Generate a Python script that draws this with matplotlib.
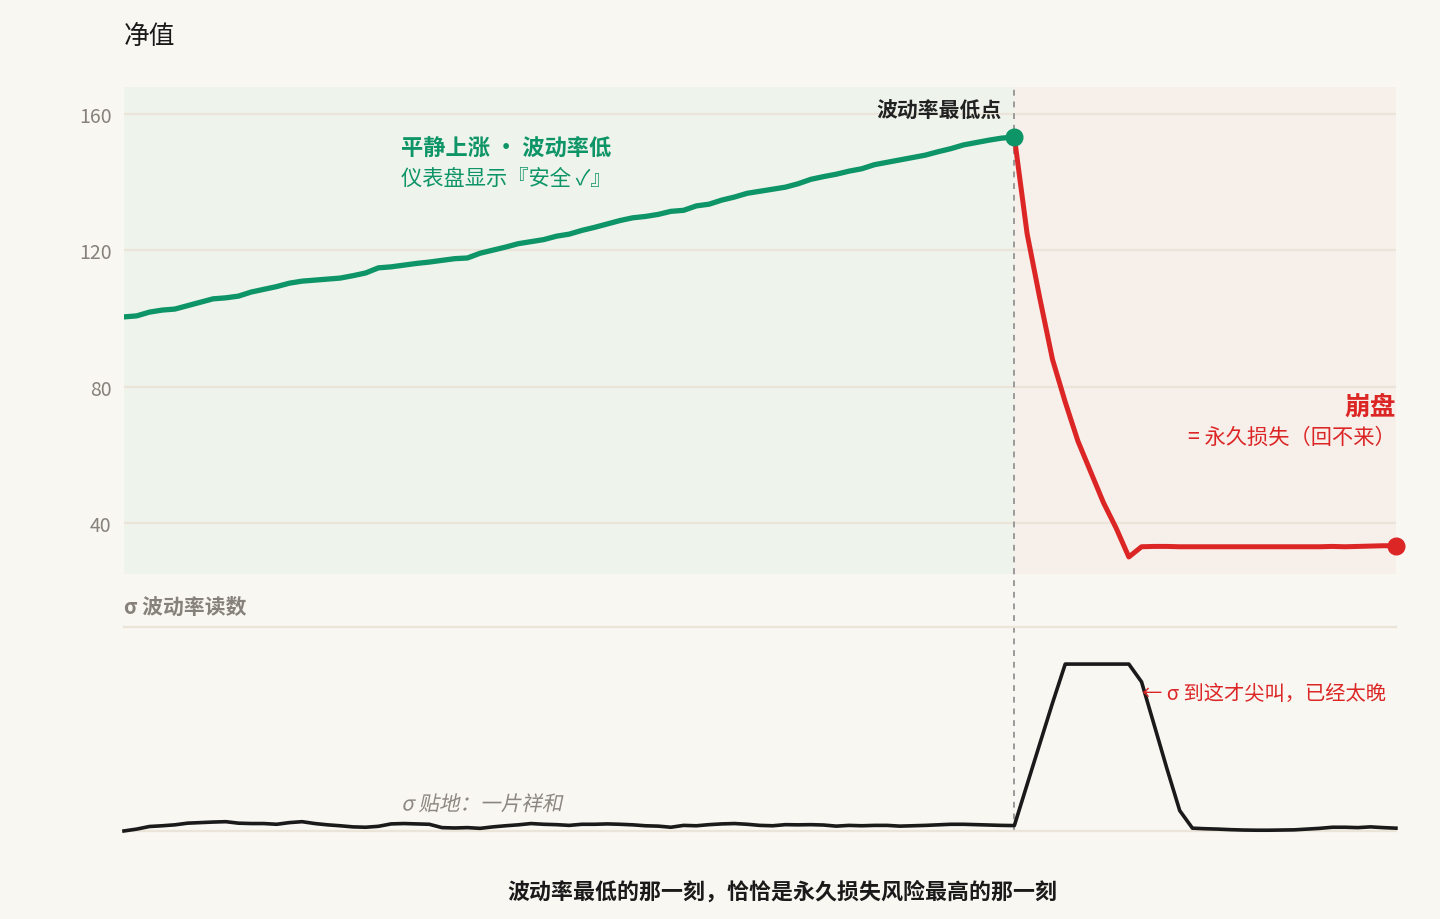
import matplotlib
matplotlib.use("Agg")
import matplotlib.pyplot as plt
from matplotlib.patches import PathPatch
from matplotlib.textpath import TextPath
from matplotlib.font_manager import FontProperties
from matplotlib.transforms import Affine2D

plt.rcParams['font.family'] = ['Noto Sans CJK SC', 'DejaVu Sans']

# 净值序列 (每步一格, 0..100)
nav_calm = [100.5, 100.8, 101.9, 102.5, 102.8, 103.8, 104.8, 105.8, 106.1, 106.6,
            107.8, 108.6, 109.4, 110.4, 111.0, 111.3, 111.6, 111.9, 112.6, 113.4,
            114.9, 115.2, 115.7, 116.2, 116.6, 117.1, 117.6, 117.8, 119.2, 120.1,
            121.0, 122.0, 122.6, 123.2, 124.2, 124.8, 125.9, 126.8, 127.8, 128.8,
            129.6, 130.0, 130.6, 131.5, 131.8, 133.1, 133.6, 134.8, 135.7, 136.8,
            137.4, 138.0, 138.6, 139.6, 140.9, 141.7, 142.4, 143.3, 144.0, 145.2,
            145.9, 146.6, 147.3, 148.0, 149.0, 149.9, 151.0, 151.7, 152.4, 153.0,
            153.3]
nav_crash = [153.3, 125.0, 106.0, 88.0, 75.5, 64.0, 55.0, 46.0, 38.5, 30.0,
             33.0, 33.1, 33.1, 33.0, 33.0, 33.0, 33.0, 33.0, 33.0, 33.0,
             33.0, 33.0, 33.0, 33.0, 33.0, 33.1, 33.0, 33.1, 33.2, 33.3,
             33.3]
# 波动率读数
sigma = [0.00, 0.10, 0.24, 0.28, 0.33, 0.42, 0.45, 0.48, 0.50, 0.42,
         0.40, 0.40, 0.36, 0.45, 0.50, 0.40, 0.33, 0.28, 0.22, 0.20,
         0.25, 0.38, 0.40, 0.38, 0.36, 0.18, 0.16, 0.18, 0.14, 0.22,
         0.28, 0.33, 0.40, 0.36, 0.34, 0.30, 0.36, 0.36, 0.38, 0.36,
         0.33, 0.28, 0.26, 0.20, 0.30, 0.28, 0.34, 0.38, 0.40, 0.36,
         0.30, 0.28, 0.34, 0.33, 0.34, 0.32, 0.26, 0.30, 0.28, 0.30,
         0.30, 0.26, 0.28, 0.30, 0.33, 0.36, 0.36, 0.34, 0.32, 0.30,
         0.29, 2.5, 4.7, 6.9, 9.0, 9.0, 9.0, 9.0, 9.0, 9.0,
         8.04, 5.7, 3.35, 1.1, 0.15, 0.12, 0.10, 0.07, 0.05, 0.04,
         0.04, 0.05, 0.06, 0.10, 0.14, 0.20, 0.20, 0.18, 0.22, 0.18,
         0.15]
turn = 70
yticks = [40, 80, 120, 160]

BG = '#f9f7f2'
GREEN = '#0d9467'
RED = '#dc2626'
GRID = '#ebe4d8'
GRAY = '#87817b'
DASH = '#9a9a9a'

x_calm = list(range(0, turn + 1))
x_crash = list(range(turn, turn + len(nav_crash)))
x_sigma = list(range(len(sigma)))

fig = plt.figure(figsize=(14.4, 9.2), dpi=100, facecolor=BG)
ax = fig.add_axes([0.0861, 0.375, 0.8833, 0.5293])
ax2 = fig.add_axes([0.0861, 0.0957, 0.8833, 0.2217])

# --- 上图: 净值
ax.set_facecolor(BG)
ax.set_xlim(0, 100)
ax.set_ylim(25, 168)
ax.axvspan(0, turn, color='#eef3ec', zorder=0, lw=0)
ax.axvspan(turn, 100, color='#f7efea', zorder=0, lw=0)
for v in yticks:
    ax.axhline(v, color=GRID, lw=1.6, zorder=1)
ax.set_yticks(yticks)
ax.set_yticklabels([str(v) for v in yticks], color=GRAY, fontsize=14)
ax.tick_params(axis='y', length=0, pad=9)
ax.set_xticks([])
for s in ax.spines.values():
    s.set_visible(False)
ax.axvline(turn, color=DASH, lw=1.4, linestyle=(0, (3, 3)), zorder=2)

ax.plot(x_calm, nav_calm, color=GREEN, lw=3.8, solid_capstyle='round', zorder=3)
ax.plot(x_crash, nav_crash, color=RED, lw=3.6, solid_capstyle='round', zorder=3)
ax.plot([turn], [nav_calm[-1]], 'o', color=GREEN, ms=12, zorder=4, clip_on=False)
ax.plot([x_crash[-1]], [nav_crash[-1]], 'o', color=RED, ms=12, zorder=4, clip_on=False)

ax.text(21.8, 150.3, '平静上涨 · 波动率低', color=GREEN, fontsize=16,
        fontweight='bold', va='center', ha='left')
ax.text(21.8, 141.2, '仪表盘显示『安全 ✓』', color=GREEN, fontsize=15.3,
        va='center', ha='left')
ax.text(69.0, 161.2, '波动率最低点', color='#222222', fontsize=15,
        fontweight='bold', va='center', ha='right')
ax.text(100, 74.4, '崩盘', color=RED, fontsize=18.5, fontweight='bold',
        va='center', ha='right')
ax.text(100, 65.3, '= 永久损失（回不来）', color=RED, fontsize=15.3,
        va='center', ha='right')

# --- 下图: σ
ax2.set_facecolor(BG)
ax2.set_xlim(0, 100)
ax2.set_ylim(0, 11)
ax2.set_xticks([])
ax2.set_yticks([])
for k, s in ax2.spines.items():
    if k in ('top', 'bottom'):
        s.set_color(GRID)
        s.set_linewidth(1.6)
    else:
        s.set_visible(False)

# 虚线: 从上图底边一直延伸到下图底边
y_gap_top = ax2.transData.inverted().transform(ax.transData.transform((turn, 25)))[1]
ax2.plot([turn, turn], [0, y_gap_top], color=DASH, lw=1.4,
         linestyle=(0, (3, 3)), zorder=2, clip_on=False)

ax2.plot(x_sigma, sigma, color='#1a1a1a', lw=2.6, zorder=3, clip_on=False)
ax2.text(0, 12.1, 'σ 波动率读数', color=GRAY, fontsize=15, fontweight='bold',
         va='center', ha='left')
ax2.text(80.0, 7.4, '← σ 到这才尖叫，已经太晚', color=RED, fontsize=14.6,
         fontweight='medium', va='center', ha='left')

# 斜体注释 (CJK 字体无斜体, 用错切路径模拟)
fs = 14.8
tp = TextPath((0, 0), 'σ 贴地：一片祥和', size=fs,
              prop=FontProperties(family='Noto Sans CJK SC'))
px, py = ax2.transData.transform((21.8, 1.5))
skew = (Affine2D().skew_deg(12, 0).scale(fig.dpi / 72)
        .translate(px, py - 0.36 * fs * fig.dpi / 72))
fig.add_artist(PathPatch(tp, transform=skew, facecolor='#8c8680', lw=0))

fig.text(0.0861, 0.96, '净值', color='#1a1a1a', fontsize=18.5, va='center', ha='left')
fig.text(0.543, 0.0304, '波动率最低的那一刻，恰恰是永久损失风险最高的那一刻',
         color='#1a1a1a', fontsize=15.8, fontweight='bold', va='center', ha='center')

fig.savefig('out.png', dpi=100, facecolor=BG)
